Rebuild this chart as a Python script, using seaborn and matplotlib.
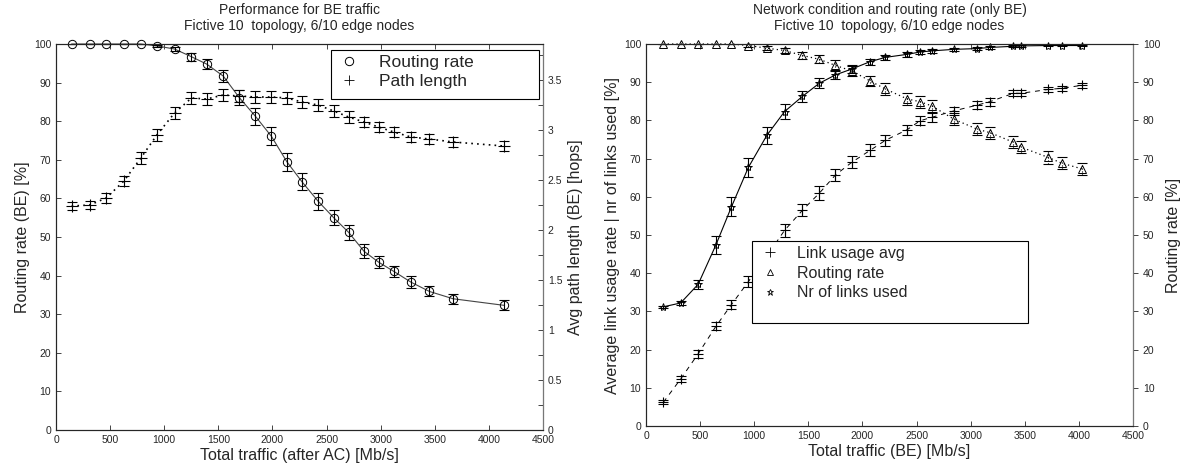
import numpy as np
import matplotlib
matplotlib.use("Agg")
import matplotlib.pyplot as plt
from matplotlib.lines import Line2D
from matplotlib.patches import Rectangle
import seaborn as sns

# left chart: performance vs total traffic after admission control
traffic_ac = [144, 312, 464, 627, 784, 932, 1095, 1252, 1392, 1545, 1694, 1842, 1990,
              2133, 2273, 2421, 2566, 2704, 2846, 2980, 3121, 3280, 3450, 3669, 4139]
routing_rate = [100, 100, 100, 100, 100, 99.5, 98.7, 96.7, 94.8, 91.7, 86.1, 81.3, 76.1,
                69.5, 64.3, 59.3, 55.0, 51.2, 46.3, 43.5, 41.1, 38.3, 35.9, 34.0, 32.3]
routing_err = [0.1, 0.1, 0.1, 0.1, 0.1, 0.3, 0.6, 1.0, 1.2, 1.5, 2.0, 2.2, 2.3,
               2.3, 2.2, 2.2, 2.0, 2.0, 1.8, 1.5, 1.5, 1.5, 1.3, 1.3, 1.3]
path_length = [2.24, 2.25, 2.32, 2.49, 2.72, 2.95, 3.17, 3.32, 3.31, 3.35, 3.34, 3.33, 3.33,
               3.32, 3.28, 3.25, 3.19, 3.13, 3.08, 3.03, 2.98, 2.93, 2.91, 2.88, 2.84]
path_err = [0.04, 0.04, 0.05, 0.05, 0.06, 0.06, 0.06, 0.06, 0.06, 0.06, 0.06, 0.06, 0.06,
            0.06, 0.06, 0.06, 0.06, 0.06, 0.05, 0.05, 0.05, 0.05, 0.05, 0.05, 0.05]

# right chart: network condition vs total BE traffic
traffic_be = [160, 320, 482, 646, 790, 946, 1117, 1280, 1446, 1600, 1750, 1905, 2073,
              2213, 2415, 2532, 2640, 2846, 3060, 3178, 3394, 3465, 3718, 3842, 4030]
link_usage = [6.2, 12.3, 18.9, 26.1, 31.8, 37.8, 44.5, 51.2, 56.5, 60.9, 65.7, 69.1, 72.2,
              74.8, 77.6, 79.9, 80.8, 82.5, 84.0, 84.9, 87.1, 87.1, 88.1, 88.4, 89.2]
link_usage_err = [0.5, 0.8, 1.0, 1.0, 1.2, 1.5, 1.5, 1.6, 1.6, 1.8, 1.6, 1.6, 1.5,
                  1.4, 1.3, 1.2, 1.2, 1.0, 1.0, 1.0, 0.8, 0.8, 0.6, 0.6, 0.6]
links_used = [31.2, 32.2, 37.1, 47.4, 57.4, 67.7, 76.1, 82.3, 86.3, 89.7, 91.9, 93.5, 95.4,
              96.5, 97.3, 97.9, 98.2, 98.6, 98.8, 99.1, 99.4, 99.5, 99.6, 99.6, 99.6]
links_used_err = [0.3, 0.4, 1.2, 2.3, 2.5, 2.5, 2.2, 2.0, 1.5, 1.3, 1.0, 1.0, 0.8,
                  0.7, 0.6, 0.5, 0.5, 0.4, 0.3, 0.3, 0.3, 0.3, 0.2, 0.2, 0.2]
routing_be = [100, 100, 100, 100, 100, 99.6, 98.9, 98.3, 97.0, 96.0, 94.4, 92.9, 90.3,
              88.2, 85.6, 84.9, 83.8, 80.3, 77.7, 76.8, 74.3, 73.0, 70.3, 68.8, 67.3]
routing_be_err = [0.1, 0.1, 0.1, 0.1, 0.1, 0.3, 0.5, 0.6, 0.9, 1.0, 1.3, 1.3, 1.4,
                  1.5, 1.6, 1.6, 1.6, 1.6, 1.6, 1.6, 1.6, 1.6, 1.6, 1.6, 1.5]

sns.set_style("ticks", {"xtick.direction": "in", "ytick.direction": "in"})
plt.rcParams["font.family"] = ["Liberation Sans", "DejaVu Sans"]
plt.rcParams["axes.linewidth"] = 0.8
plt.rcParams["xtick.major.size"] = 3.5
plt.rcParams["ytick.major.size"] = 3.5
plt.rcParams["ytick.minor.size"] = 3.5

W, H = 1188, 470
fig = plt.figure(figsize=(W / 100, H / 100), dpi=100)
ax1 = fig.add_axes([56 / W, 1 - 430 / H, 487 / W, 386 / H])
ax3 = fig.add_axes([646 / W, 1 - 426 / H, 487 / W, 382 / H])

xticks = np.arange(0, 4501, 500)
mk = dict(markeredgecolor="black", clip_on=False)
dotted = (0, (1, 2.5))


def style_x(ax, label):
    ax.set_xlim(0, 4500)
    ax.set_xticks(xticks)
    ax.tick_params(axis="x", labelsize=7.5, top=True, direction="in", width=0.6)
    ax.set_xlabel(label, fontsize=11.5, labelpad=2)


def errbars(ax, x, y, err, ls="-", color="black"):
    eb = ax.errorbar(x, y, yerr=err, fmt="none", ecolor=color, elinewidth=0.8,
                     capsize=3.5, capthick=0.8, zorder=2)
    for bar in eb[2]:
        bar.set_linestyle(ls)
    return eb


# ---- left chart ----
ax2 = ax1.twinx()
sns.lineplot(x=traffic_ac, y=routing_rate, ax=ax1, color="#444444", linewidth=0.8,
             marker="o", markersize=6, markerfacecolor="none", markeredgewidth=0.7, **mk)
errbars(ax1, traffic_ac, routing_rate, routing_err)
sns.lineplot(x=traffic_ac, y=path_length, ax=ax2, color="black", linewidth=1.2,
             linestyle=dotted, marker="+", markersize=8, markeredgewidth=0.8, **mk)
errbars(ax2, traffic_ac, path_length, path_err, ls=":")

style_x(ax1, "Total traffic (after AC) [Mb/s]")
ax1.set_ylim(0, 100)
ax1.set_yticks(np.arange(0, 101, 10))
ax1.tick_params(axis="y", labelsize=7.5, width=0.6)
ax1.set_ylabel("Routing rate (BE) [%]", fontsize=11.5, labelpad=3)
ax1.set_title("Performance for BE traffic\nFictive 10  topology, 6/10 edge nodes",
              fontsize=10, pad=10)
ax2.set_ylim(0, 3.86)
ax2.set_yticks(np.arange(0, 3.6, 0.5))
ax2.set_yticklabels(["0", "0.5", "1", "1.5", "2", "2.5", "3", "3.5"])
ax2.set_yticks(np.arange(0.25, 3.8, 0.5), minor=True)
ax2.tick_params(axis="y", which="both", labelsize=7.5, direction="in", width=0.6)
ax2.set_ylabel("Avg path length (BE) [hops]", fontsize=11.5, labelpad=4)
ax2.spines["right"].set_color("#777777")

h_left = [Line2D([], [], color="black", marker="o", markerfacecolor="none",
                 markersize=6, markeredgewidth=0.7, linestyle="none"),
          Line2D([], [], color="black", marker="+", markersize=7, markeredgewidth=0.6,
                 linestyle="none")]
leg = ax2.legend(h_left, ["Routing rate", "Path length"], loc="upper left",
                 bbox_to_anchor=(0.565, 0.984), frameon=False, fontsize=12.5,
                 borderaxespad=0, borderpad=0.25, handlelength=1.6, handletextpad=0.9,
                 labelspacing=0.25)
leg.set_zorder(7)
ax2.add_patch(Rectangle((0.565, 0.858), 0.427, 0.126, transform=ax2.transAxes,
                        facecolor="white", edgecolor="black", linewidth=0.8, zorder=6))

# ---- right chart ----
ax4 = ax3.twinx()
sns.lineplot(x=traffic_be, y=link_usage, ax=ax3, color="black", linewidth=0.7,
             linestyle=(0, (5, 5)), marker="+", markersize=7, markeredgewidth=0.8, **mk)
errbars(ax3, traffic_be, link_usage, link_usage_err)
sns.lineplot(x=traffic_be, y=links_used, ax=ax3, color="black", linewidth=0.8,
             marker="*", markersize=6, markerfacecolor="none", markeredgewidth=0.7, **mk)
errbars(ax3, traffic_be, links_used, links_used_err)
sns.lineplot(x=traffic_be, y=routing_be, ax=ax4, color="black", linewidth=0.9,
             linestyle=dotted, marker="^", markersize=6, markerfacecolor="none",
             markeredgewidth=0.7, **mk)
errbars(ax4, traffic_be, routing_be, routing_be_err, ls=":")

style_x(ax3, "Total traffic (BE) [Mb/s]")
ax3.set_ylim(0, 100)
ax3.set_yticks(np.arange(0, 101, 10))
ax3.tick_params(axis="y", labelsize=7.5, width=0.6)
ax3.set_ylabel("Average link usage rate | nr of links used [%]", fontsize=11.5, labelpad=3)
ax3.set_title("Network condition and routing rate (only BE)\nFictive 10  topology, 6/10 edge nodes",
              fontsize=10, pad=10)
ax4.set_ylim(0, 100)
ax4.set_yticks(np.arange(0, 101, 10))
ax4.tick_params(axis="y", labelsize=7.5, direction="out", width=0.6)
ax4.set_ylabel("Routing rate [%]", fontsize=11.5, labelpad=4)
ax4.spines["right"].set_color("#777777")

ax4.add_patch(Rectangle((0.218, 0.270), 0.566, 0.214, transform=ax4.transAxes,
                        facecolor="white", edgecolor="black", linewidth=0.8, zorder=6))
h_right = [Line2D([], [], color="black", marker="+", markersize=7, markeredgewidth=0.6,
                  linestyle="none"),
           Line2D([], [], color="black", marker="^", markerfacecolor="none",
                  markersize=5, markeredgewidth=0.6, linestyle="none"),
           Line2D([], [], color="black", marker="*", markerfacecolor="none",
                  markersize=5, markeredgewidth=0.6, linestyle="none")]
leg2 = ax4.legend(h_right, ["Link usage avg", "Routing rate", "Nr of links used"],
                  loc="upper left", bbox_to_anchor=(0.218, 0.484), frameon=False,
                  fontsize=11.5, borderaxespad=0, borderpad=0.3, handlelength=1.6,
                  handletextpad=0.9, labelspacing=0.3)
leg2.set_zorder(7)

for ax in (ax1, ax2, ax3, ax4):
    ax.grid(False)

fig.savefig("out.png", dpi=100)
